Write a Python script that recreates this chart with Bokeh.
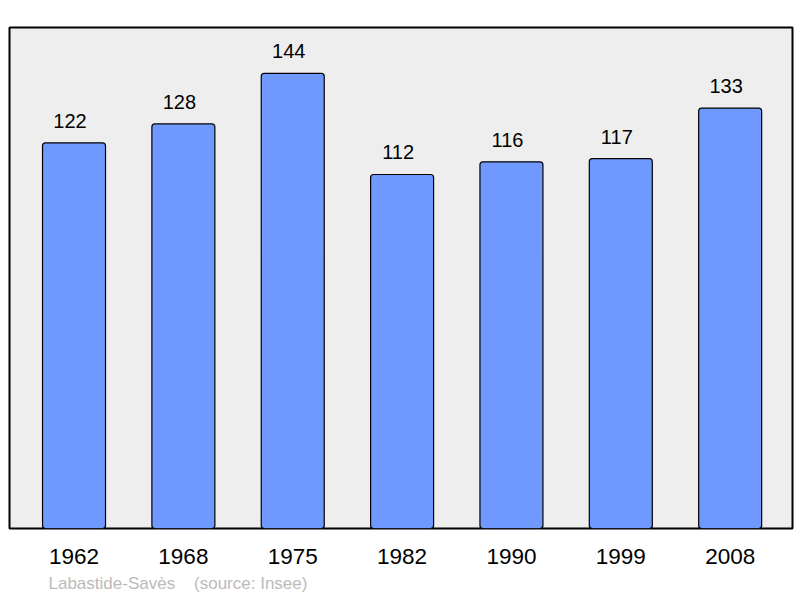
from bokeh.plotting import figure
from bokeh.models import Range1d, FixedTicker, Title
from bokeh.core.properties import value
from bokeh.embed import file_html
from bokeh.resources import INLINE

BAR_COLOUR = "#7099ff"
BG_COLOUR = "#eeeeee"
FONT = "Liberation Sans"

years = ["1962", "1968", "1975", "1982", "1990", "1999", "2008"]
population = [122, 128, 144, 112, 116, 117, 133]
place = "Labastide-Savès"
source = "(source: Insee)"

xs = list(range(len(years)))

p = figure(
    width=800,
    height=598,
    x_range=Range1d(-0.59, 6.57),
    y_range=Range1d(0, 158.5),
    toolbar_location=None,
    tools="",
    output_backend="svg",
    min_border_left=9,
    min_border_right=8,
    min_border_top=27,
    min_border_bottom=70,
)
p.background_fill_color = BG_COLOUR
p.border_fill_color = "white"
p.outline_line_color = "black"
p.outline_line_width = 2
p.grid.visible = False
p.yaxis.visible = False

p.vbar(
    x=xs,
    top=population,
    width=0.576,
    fill_color=BAR_COLOUR,
    line_color="black",
    line_width=1.2,
    border_radius=3,
)
# value labels sit a little left of the bar centre, as in the original
p.text(
    x=xs,
    y=population,
    text=[str(v) for v in population],
    text_align="center",
    text_baseline="alphabetic",
    x_offset=-4,
    y_offset=-22,
    text_font=value(FONT),
    text_font_size="20px",
    text_color="black",
)

p.xaxis.ticker = FixedTicker(ticks=xs)
p.xaxis.major_label_overrides = {i: y for i, y in enumerate(years)}
p.xaxis.major_label_text_font = FONT
p.xaxis.major_label_text_font_size = "22.5px"
p.xaxis.major_label_text_color = "black"
p.xaxis.major_label_standoff = 14
p.xaxis.axis_line_color = None
p.xaxis.major_tick_line_color = None
p.xaxis.minor_tick_line_color = None

footer = Title(
    text=place + "\u00a0" * 4 + source,
    align="left",
    offset=39,
    standoff=10,
    text_font=FONT,
    text_font_size="17px",
    text_font_style="normal",
    text_color="#bbbbbb",
)
p.add_layout(footer, "below")

open("out.html", "w").write(file_html(p, INLINE))
